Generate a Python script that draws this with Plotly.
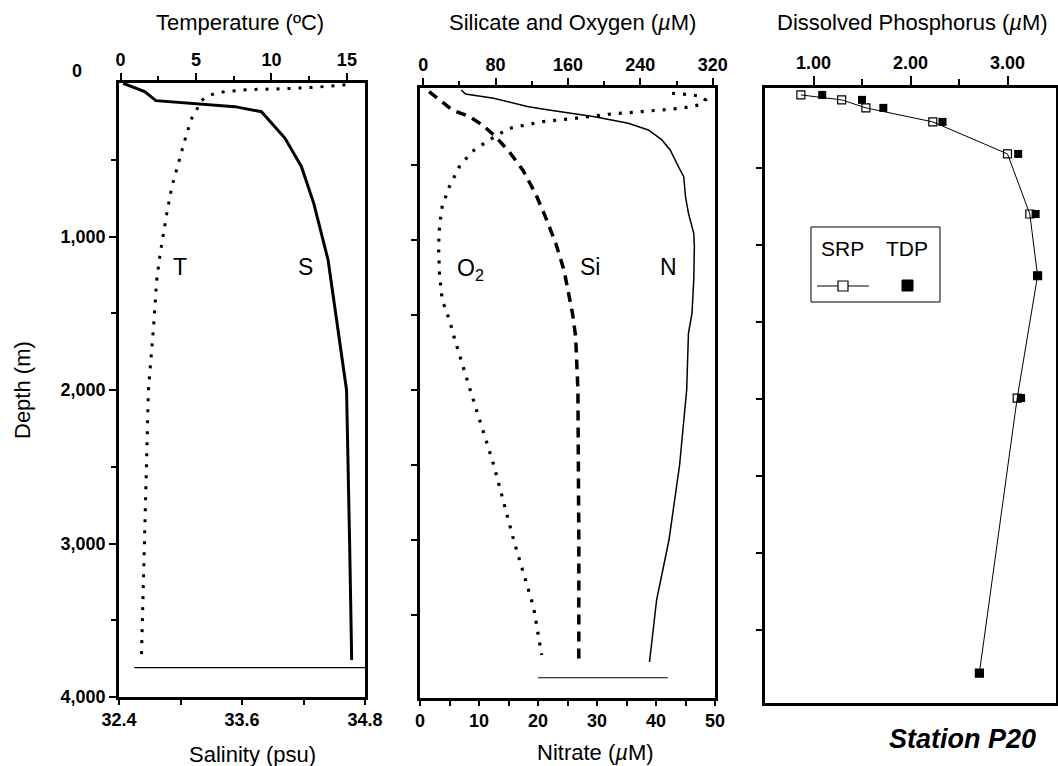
import plotly.graph_objects as go

# ---------------- data ----------------
# Panel 1: temperature (top axis) and salinity (bottom axis) vs depth
temp_depth = [12, 28, 38, 42, 56, 67, 89, 122, 176, 230, 328, 447, 567, 676, 849, 979,
              1110, 1283, 1588, 2000, 2500, 3000, 3400, 3726]
temperature = [14.9, 12.9, 10.6, 8.7, 6.9, 6.3, 5.7, 5.27, 5.05, 4.72, 4.39, 4.06, 3.73,
               3.40, 3.07, 2.85, 2.63, 2.40, 2.19, 1.85, 1.72, 1.59, 1.48, 1.39]
sal_depth = [2, 24, 56, 115, 137, 154, 187, 360, 545, 784, 1153, 1631, 2000, 3000, 3759]
salinity = [32.44, 32.52, 32.65, 32.76, 33.20, 33.53, 33.79, 34.02, 34.18, 34.30, 34.44,
            34.54, 34.62, 34.65, 34.67]
floor1_sal = [32.55, 34.8]
floor1_depth = [3809, 3809]

# Panel 2: nitrate (bottom axis), silicate and oxygen (top axis)
no3_depth = [0, 27, 56, 111, 129, 149, 178, 222, 267, 333, 400, 511, 578, 711, 822, 956,
             1044, 1267, 1489, 1622, 2000, 2500, 3000, 3400, 3813]
nitrate = [7.0, 7.7, 12.5, 18.2, 21.0, 24.5, 29.6, 35.3, 38.7, 41.0, 42.4, 43.8, 44.7,
           45.0, 45.5, 46.4, 46.5, 46.4, 46.1, 45.5, 45.2, 44.0, 42.2, 40.1, 38.9]
o2_depth = [22, 33, 44, 67, 100, 122, 144, 162, 189, 211, 256, 333, 411, 511, 644, 778,
            911, 1044, 1222, 1400, 1533, 1644, 2000, 2500, 3000, 3447, 3767]
oxygen = [275, 297, 308, 312, 305, 286, 242, 205, 168, 132, 95, 73, 54, 40, 29, 21, 18,
          17, 18, 21, 29, 34, 52, 78, 100, 122, 131]
si_depth = [11, 78, 133, 178, 233, 311, 411, 533, 689, 844, 1022, 1200, 1356, 1489, 1644,
            2000, 3000, 3811]
silicate = [6.6, 21, 32, 51, 65.5, 80, 95, 110, 124, 135, 146.5, 155.6, 161, 165, 168.5,
            171, 172, 172]
floor2_no3 = [20, 42]
floor2_depth = [3918, 3918]

# Panel 3: dissolved phosphorus
p_depth = [26, 58, 110, 201, 409, 799, 1200, 1994, 3780]
srp = [0.87, 1.29, 1.54, 2.23, 3.00, 3.23, 3.31, 3.10, 2.71]
tdp = [1.09, 1.50, 1.72, 2.33, 3.11, 3.29, 3.31, 3.14, 2.71]

# tick labels
depth_ticks = [1000, 2000, 3000, 4000]
depth_ticktext = ["1,000", "2,000", "3,000", "4,000"]
temp_ticks = [0, 5, 10, 15]
sal_ticks = [32.4, 33.6, 34.8]
sal_ticktext = ["32.4", "33.6", "34.8"]
no3_ticks = [0, 10, 20, 30, 40, 50]
sio_ticks = [0, 80, 160, 240, 320]
p_ticks = [1, 2, 3]
p_ticktext = ["1.00", "2.00", "3.00"]

# ---------------- layout helpers ----------------
W, H = 1058, 766
FONT = "Liberation Sans, Arial, Helvetica, sans-serif"


def px(x):
    return x / W


def py(y):
    return 1 - y / H


tickfont = dict(family=FONT, size=18, color="black", weight="bold")
LW = 2.6

fig = go.Figure()

# panel 1
fig.add_trace(go.Scatter(x=temperature, y=temp_depth, xaxis="x2", yaxis="y", mode="lines",
                         line=dict(color="black", width=3, dash="3px,8px"), hoverinfo="skip"))
fig.add_trace(go.Scatter(x=salinity, y=sal_depth, xaxis="x", yaxis="y", mode="lines",
                         line=dict(color="black", width=3), hoverinfo="skip"))
fig.add_trace(go.Scatter(x=floor1_sal, y=floor1_depth, xaxis="x", yaxis="y", mode="lines",
                         line=dict(color="black", width=1.2), hoverinfo="skip"))

# panel 2
fig.add_trace(go.Scatter(x=nitrate, y=no3_depth, xaxis="x3", yaxis="y2", mode="lines",
                         line=dict(color="black", width=1.5), hoverinfo="skip"))
fig.add_trace(go.Scatter(x=oxygen, y=o2_depth, xaxis="x4", yaxis="y2", mode="lines",
                         line=dict(color="black", width=3.2, dash="3px,8px"), hoverinfo="skip"))
fig.add_trace(go.Scatter(x=silicate, y=si_depth, xaxis="x4", yaxis="y2", mode="lines",
                         line=dict(color="black", width=3.5, dash="10px,7px"), hoverinfo="skip"))
fig.add_trace(go.Scatter(x=floor2_no3, y=floor2_depth, xaxis="x3", yaxis="y2", mode="lines",
                         line=dict(color="black", width=1.2), hoverinfo="skip"))

# panel 3
fig.add_trace(go.Scatter(x=srp, y=p_depth, xaxis="x5", yaxis="y3", mode="lines+markers",
                         line=dict(color="black", width=1),
                         marker=dict(symbol="square-open", size=8, color="black",
                                     line=dict(width=1.2)), hoverinfo="skip"))
fig.add_trace(go.Scatter(x=tdp, y=p_depth, xaxis="x5", yaxis="y3", mode="markers",
                         marker=dict(symbol="square", size=8, color="black"), hoverinfo="skip"))

common = dict(showgrid=False, zeroline=False, ticks="outside", tickcolor="black",
              tickfont=tickfont, tickwidth=1.5, automargin=False)

fig.update_layout(
    template="none",
    width=W, height=H, margin=dict(l=0, r=0, t=0, b=0, pad=0),
    paper_bgcolor="white", plot_bgcolor="white", showlegend=False,
    font=dict(family=FONT, color="black"),
    xaxis=dict(domain=[px(119), px(365)], range=[32.4, 34.8], anchor="y",
               tickvals=sal_ticks, ticktext=sal_ticktext, ticklen=5,
               minor=dict(tickvals=[33.0, 34.2], ticklen=5, ticks="outside", tickcolor="black"),
               showline=True, linewidth=LW, linecolor="black", mirror=True, **common),
    xaxis2=dict(overlaying="x", side="top", anchor="y", range=[-0.1, 16.2],
                tickvals=temp_ticks, ticklen=9,
                minor=dict(tickvals=[2.5, 7.5, 12.5], ticklen=6, ticks="outside", tickcolor="black"),
                showline=False, **common),
    yaxis=dict(domain=[py(697), py(83)], range=[4000, 0], anchor="x",
               tickvals=depth_ticks, ticktext=depth_ticktext, ticklen=7,
               minor=dict(tickvals=[500, 1500, 2500, 3500], ticklen=5, ticks="outside",
                          tickcolor="black"),
               showline=True, linewidth=LW, linecolor="black", mirror=True, **common),
    xaxis3=dict(domain=[px(420), px(715)], range=[0, 50], anchor="y2",
                tickvals=no3_ticks, ticklen=5,
                minor=dict(tickvals=[5, 15, 25, 35, 45], ticklen=5, ticks="outside",
                           tickcolor="black"),
                showline=True, linewidth=LW, linecolor="black", mirror=True, **common),
    xaxis4=dict(overlaying="x3", side="top", anchor="y2", range=[-3.5, 322.5],
                tickvals=sio_ticks, ticklen=9,
                minor=dict(tickvals=[40, 120, 200, 280], ticklen=6, ticks="outside",
                           tickcolor="black"),
                showline=False, **common),
    yaxis2=dict(domain=[py(698), py(88)], range=[4053, -13], anchor="x3",
                tickvals=[500, 1000, 1500, 2000, 2500, 3000, 3500], ticklen=6,
                showticklabels=False,
                showline=True, linewidth=LW, linecolor="black", mirror=True, **common),
    xaxis5=dict(domain=[px(765), px(1056)], range=[0.5, 3.5], anchor="y3", side="top",
                tickvals=p_ticks, ticktext=p_ticktext, ticklen=9,
                minor=dict(tickvals=[1.5, 2.5], ticklen=6, ticks="outside", tickcolor="black"),
                showline=True, linewidth=LW, linecolor="black", mirror=True, **common),
    yaxis3=dict(domain=[py(703), py(88)], range=[3974, -19], anchor="x5",
                tickvals=[500, 1000, 1500, 2000, 2500, 3000, 3500], ticklen=6,
                showticklabels=False,
                showline=True, linewidth=LW, linecolor="black", mirror=True, **common),
)

ann = []


def text(x, y, s, size=22, **kw):
    ann.append(dict(x=px(x), y=py(y), xref="paper", yref="paper", text=s, showarrow=False,
                    xanchor=kw.pop("xanchor", "center"), yanchor=kw.pop("yanchor", "middle"),
                    font=dict(family=FONT, size=size, color="black"), **kw))


text(240, 22, "Temperature (ºC)", 22)
text(572, 22, "Silicate and Oxygen (<i>µ</i>M)", 22)
text(912, 22, "Dissolved Phosphorus (<i>µ</i>M)", 22)
text(252, 754, "Salinity (psu)", 22)
text(595, 752, "Nitrate (<i>µ</i>M)", 22)
text(22, 390, "Depth (m)", 22, textangle=-90)
text(77, 71, "<b>0</b>", 18)
text(180, 267, "T", 23)
text(305, 267, "S", 23)
text(470, 269, "O<sub>2</sub>", 23)
text(590, 267, "Si", 23)
text(668, 267, "N", 23)
text(962, 739, "<b><i>Station P20</i></b>", 27)
text(842, 248, "SRP", 21)
text(907, 248, "TDP", 21)

fig.update_layout(annotations=ann)

shapes = [
    dict(type="rect", xref="paper", yref="paper", x0=px(811), x1=px(940), y0=py(302), y1=py(227),
         line=dict(color="black", width=1), fillcolor="rgba(0,0,0,0)"),
    dict(type="line", xref="paper", yref="paper", x0=px(817), x1=px(869), y0=py(286), y1=py(286),
         line=dict(color="black", width=1)),
    dict(type="rect", xref="paper", yref="paper", x0=px(838), x1=px(848), y0=py(291), y1=py(281),
         line=dict(color="black", width=1.2), fillcolor="white"),
    dict(type="rect", xref="paper", yref="paper", x0=px(902), x1=px(913), y0=py(291), y1=py(280),
         line=dict(color="black", width=1), fillcolor="black"),
]
fig.update_layout(shapes=shapes)

fig.write_html("out.html")
